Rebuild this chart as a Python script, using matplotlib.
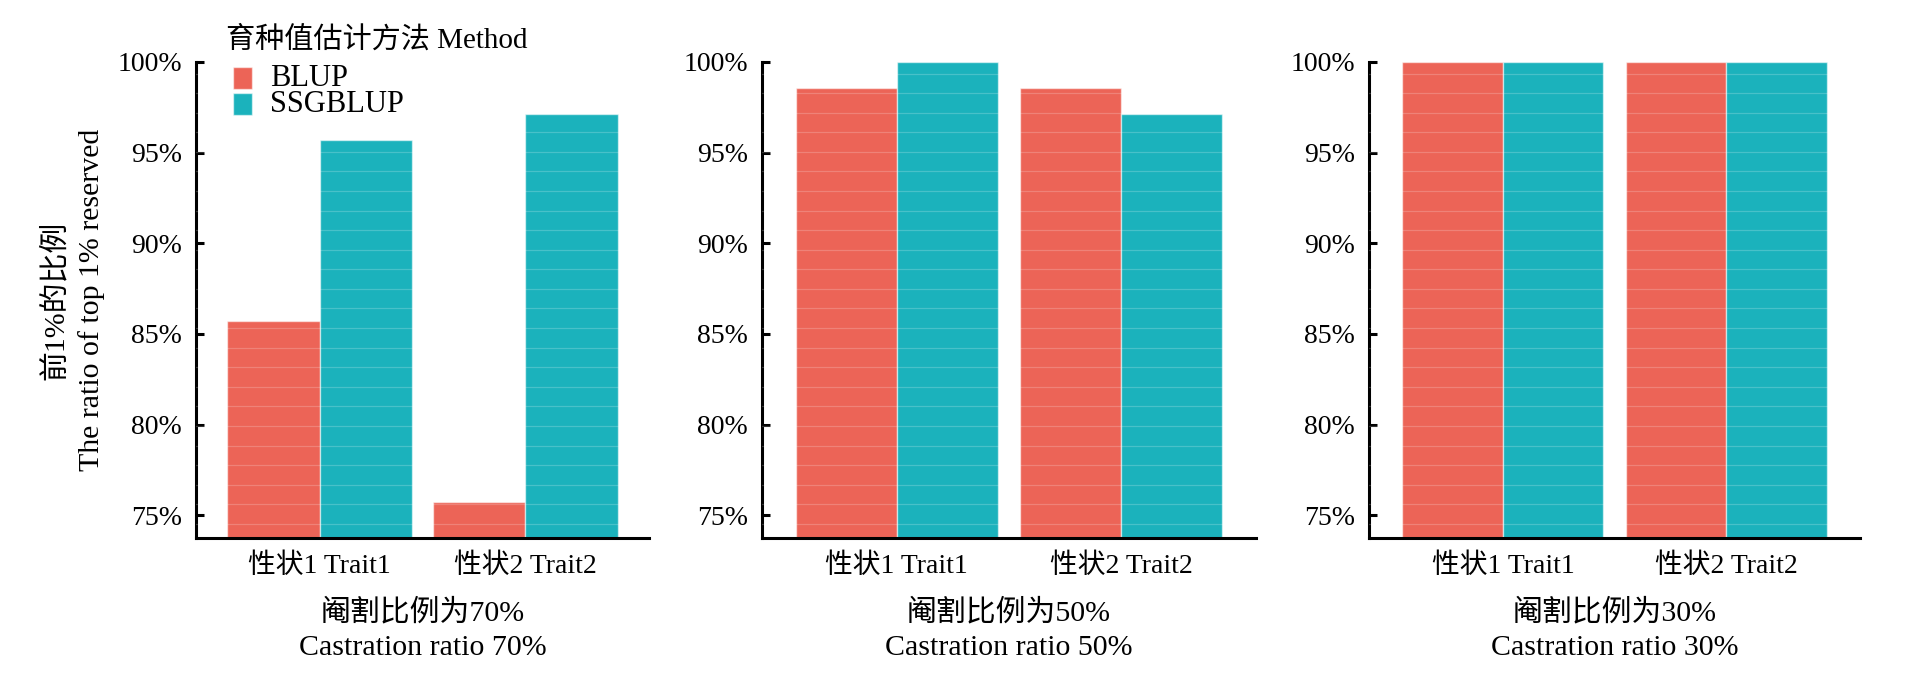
import matplotlib
matplotlib.use("Agg")
import matplotlib.pyplot as plt
from matplotlib.patches import Rectangle
from matplotlib.ticker import MultipleLocator, FuncFormatter
import numpy as np

plt.rcParams['font.family'] = ['Liberation Serif', 'Noto Sans CJK SC', 'DejaVu Sans']

# ---- data ----
traits = ["性状1 Trait1", "性状2 Trait2"]
methods = ["BLUP", "SSGBLUP"]
legend_title = "育种值估计方法 Method"
y_label = "前1%的比例\nThe ratio of top 1% reserved"
panel_titles = ["阉割比例为70%\nCastration ratio 70%",
                "阉割比例为50%\nCastration ratio 50%",
                "阉割比例为30%\nCastration ratio 30%"]
blup_values = [[85.71, 75.71], [98.57, 98.57], [100.0, 100.0]]
ssgblup_values = [[95.71, 97.14], [100.0, 97.14], [100.0, 100.0]]
yticks = [75, 80, 85, 90, 95, 100]

colors = {"BLUP": "#EC6457", "SSGBLUP": "#1BB2BC"}
edge = (1, 1, 1, 0.55)

W, H = 1916, 679
fig = plt.figure(figsize=(W / 100, H / 100), dpi=100)

def fx(px):
    return px / W

def fy(py):
    return (H - py) / H

# axes boxes in pixels: (left, right)
boxes = [(196, 649), (762, 1256), (1369, 1860)]
top_px, bot_px = 61, 538
FS_TICK = 20
FS_TITLE = 21.5

for i, (l, r) in enumerate(boxes):
    ax = fig.add_axes([fx(l), fy(bot_px), (r - l) / W, (bot_px - top_px) / H])
    x = np.arange(len(traits))
    w = 0.45
    ax.bar(x - w / 2, blup_values[i], width=w, color=colors["BLUP"],
           edgecolor=edge, linewidth=1.0, zorder=1)
    ax.bar(x + w / 2, ssgblup_values[i], width=w, color=colors["SSGBLUP"],
           edgecolor=edge, linewidth=1.0, zorder=1)
    ax.set_xlim(-0.6, 1.6)
    ax.set_ylim(73.74, 100.05)
    ax.set_yticks(yticks)
    ax.yaxis.set_major_formatter(FuncFormatter(lambda v, p: f"{v:.0f}%"))
    ax.yaxis.set_minor_locator(MultipleLocator(1.08))
    ax.set_axisbelow(False)
    ax.grid(which='minor', axis='y', color='white', alpha=0.2, linewidth=0.9, zorder=2)
    ax.grid(which='major', axis='both', visible=False)
    ax.tick_params(axis='y', which='minor', length=0)
    ax.set_xticks(x)
    ax.set_xticklabels(traits)
    for s in ['top', 'right']:
        ax.spines[s].set_visible(False)
    for s in ['left', 'bottom']:
        ax.spines[s].set_linewidth(2.2)
        ax.spines[s].set_capstyle('projecting')
    ax.spines['left'].set_bounds(73.74, 100.0)
    ax.tick_params(axis='y', which='major', direction='in', length=6, width=2.2,
                   labelsize=FS_TICK, pad=10)
    ax.tick_params(axis='x', length=0, labelsize=FS_TICK, pad=11)
    cx = (l + r) / 2
    fig.text(fx(cx), fy(630), panel_titles[i], ha='center', va='center',
             fontsize=FS_TITLE, linespacing=1.45)

# y label
fig.text(fx(73), fy(300), y_label, rotation=90, ha='center', va='center',
         fontsize=FS_TITLE, linespacing=1.4)

# legend (drawn in figure pixel space)
fig.text(fx(226), fy(40), legend_title, ha='left', va='center', fontsize=21)
for k, m in enumerate(methods):
    yc = 78 + 26 * k
    fig.patches.append(Rectangle((fx(233), fy(yc + 11)), 19 / W, 22 / H,
                                 transform=fig.transFigure, facecolor=colors[m],
                                 edgecolor=edge, linewidth=1.0))
    fig.text(fx(270), fy(yc), m, ha='left', va='center', fontsize=22)

fig.savefig("out.png", dpi=100)
